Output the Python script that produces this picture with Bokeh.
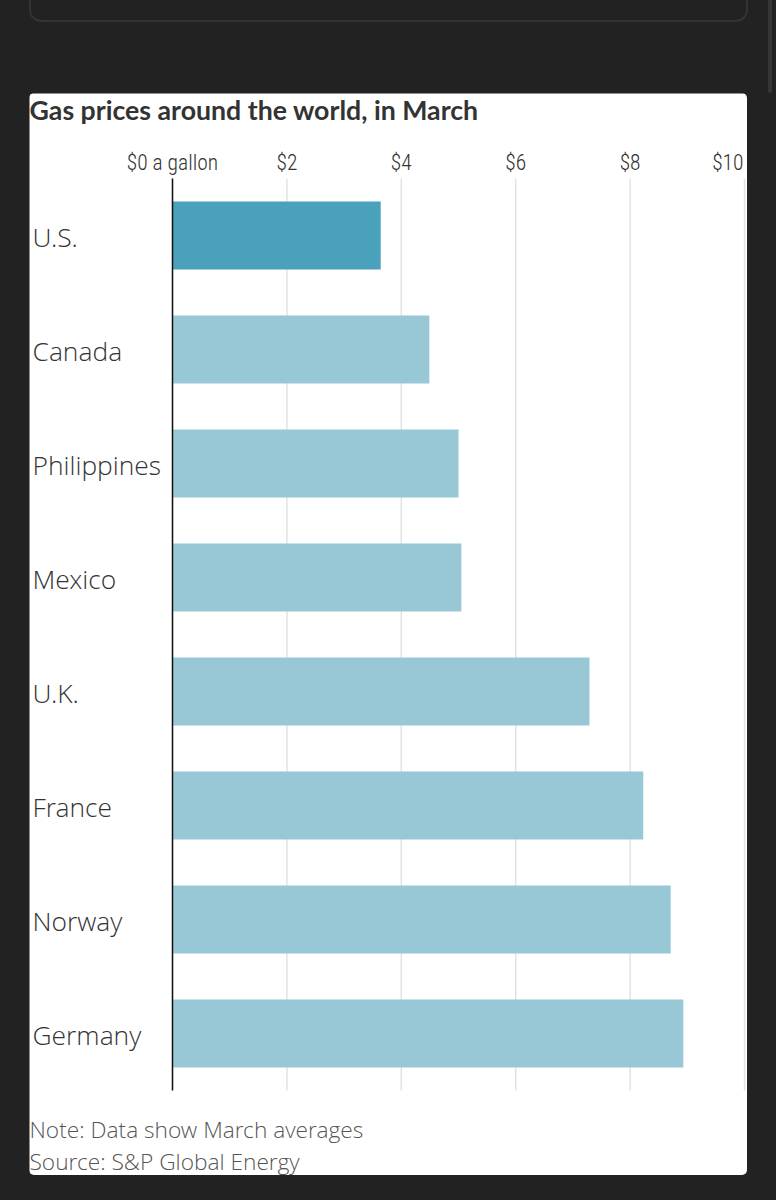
from bokeh.plotting import figure
from bokeh.models import Label, FixedTicker, FactorRange, Range1d
from bokeh.core.properties import value
from bokeh.embed import file_html
from bokeh.resources import INLINE

categories = ["U.S.", "Canada", "Philippines", "Mexico", "U.K.", "France", "Norway", "Germany"]
prices = [3.64, 4.49, 5.00, 5.05, 7.29, 8.23, 8.71, 8.93]
bar_colors = ["#4aa1bb"] + ["#98c7d6"] * 7
tick_values = [0, 2, 4, 6, 8, 10]
tick_labels = ["$0 a gallon", "$2", "$4", "$6", "$8", ""]
last_tick_label = "$10"
title_text = "Gas prices around the world, in March"
note_text = "Note: Data show March averages"
source_text = "Source: S&P Global Energy"

CARD_X, CARD_Y = 29, 93
W, H = 718, 1082
PX_PER_DOLLAR = 57.2
PX_PER_ROW = 114
PLOT_LEFT = 143
PAD_ROWS = 85 / PX_PER_ROW
n = len(categories)

y_range = FactorRange(factors=list(reversed(categories)), range_padding=PAD_ROWS, range_padding_units="absolute")
x_range = Range1d(-PLOT_LEFT / PX_PER_DOLLAR, (W - PLOT_LEFT) / PX_PER_DOLLAR)

p = figure(width=W, height=H, output_backend="svg", toolbar_location=None,
           x_range=x_range, y_range=y_range, x_axis_location="above",
           min_border_left=0, min_border_right=0, min_border_top=0, min_border_bottom=0,
           background_fill_color="white", border_fill_color="white",
           outline_line_color=None)
p.styles = {"border-radius": "5px", "overflow": "hidden"}

p.segment(x0=tick_values, x1=tick_values, y0=[0] * len(tick_values), y1=[n] * len(tick_values),
          line_color="#e2e2e2", line_width=1.5)
p.hbar(y=categories, right=prices, left=0, height=0.596, color=bar_colors, line_color=None)

TICK_FONT = "Roboto Condensed Light"
ax = p.xaxis[0]
ax.fixed_location = n - 7 / PX_PER_ROW
ax.ticker = FixedTicker(ticks=tick_values)
ax.major_label_overrides = {v: t for v, t in zip(tick_values, tick_labels)}
ax.major_tick_line_color = None
ax.minor_tick_line_color = None
ax.axis_line_color = None
ax.major_label_text_font = TICK_FONT
ax.major_label_text_font_size = "21.5px"
ax.major_label_text_color = "#333333"
ax.major_label_standoff = 5

ay = p.yaxis[0]
ay.fixed_location = 0
ay.bounds = (0, n)
ay.axis_line_color = "#111111"
ay.axis_line_width = 1.5
ay.major_tick_line_color = None
ay.minor_tick_line_color = None
ay.major_label_text_color = None

p.xgrid.visible = False
p.ygrid.visible = False

p.text(x=[0] * n, y=categories, text=categories, x_offset=-140, y_offset=1,
       text_font=value("Open Sans Light"), text_font_size="26.4px", text_color="#333333",
       text_align="left", text_baseline="middle")

def label(text, x, y, font, size, color, style="normal", align="left"):
    p.add_layout(Label(x=x, y=y, x_units="canvas", y_units="canvas", text=text,
                       text_font=font, text_font_size=size, text_color=color, text_font_style=style,
                       text_align=align, text_baseline="middle"))

label(title_text, 0, 16, "Lato", "26.7px", "#333333", style="bold")
label(last_tick_label, 714, 69, TICK_FONT, "21.5px", "#333333", align="right")
label(note_text, 0, 1036, "Open Sans Light", "22.7px", "#555555")
label(source_text, 0, 1068, "Open Sans Light", "22.7px", "#555555")

css = ("<style>html,body{background:#222222;}body{margin:%dpx 0 0 %dpx !important;}"
       "body::before{content:'';position:absolute;left:29px;top:-20px;width:715px;height:38px;"
       "border:2px solid #333333;border-radius:12px;box-sizing:content-box;}"
       "body::after{content:'';position:absolute;left:768px;top:-6px;width:4px;height:99px;"
       "background:#363636;border-radius:2px;}"
       "</style>" % (CARD_Y, CARD_X))
html = file_html(p, INLINE)
html = html.replace("</head>", css + "</head>", 1)
open("out.html", "w").write(html)
